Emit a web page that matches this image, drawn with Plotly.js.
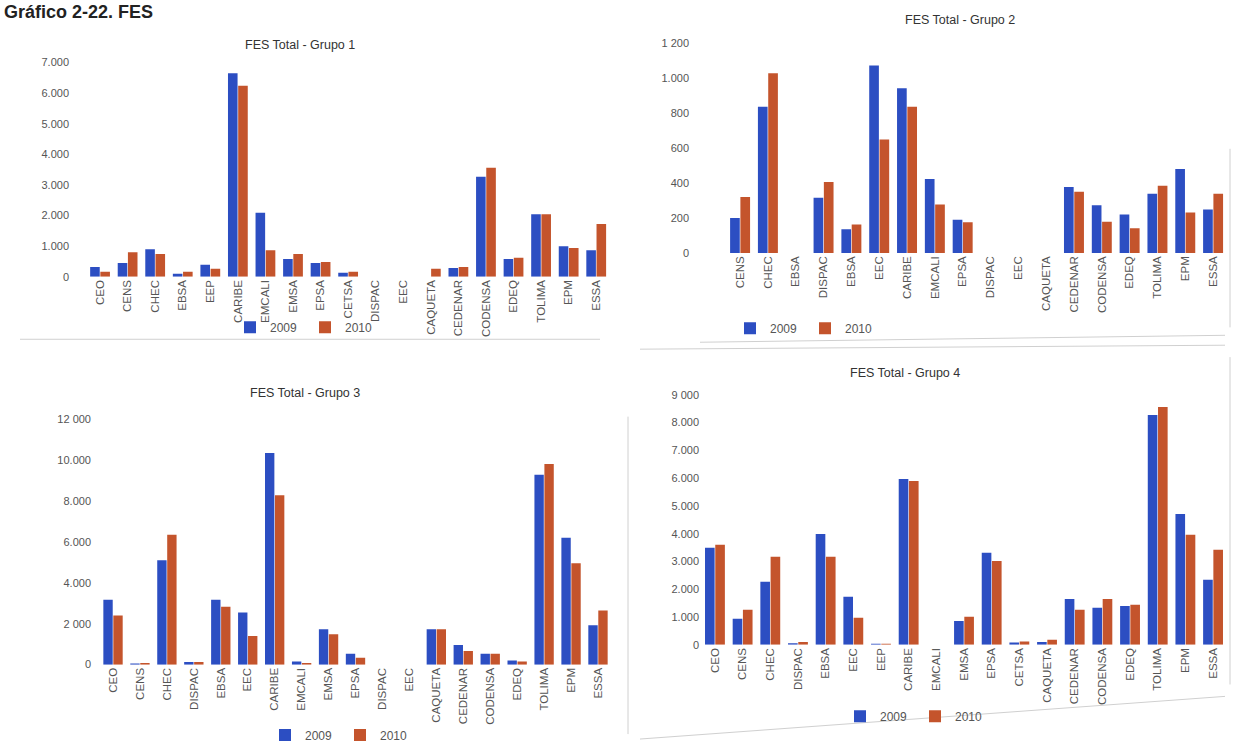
<!DOCTYPE html>
<html>
<head>
<meta charset="utf-8">
<script src="https://cdn.plot.ly/plotly-3.0.1.min.js"></script>
<style>html,body{margin:0;padding:0;background:#fff;}#chart{width:1238px;height:750px;}</style>
</head>
<body>
<div id="chart"></div>
<script>
// ---- Data ----
const seriesNames = ["2009", "2010"];

const g1Cats = ["CEO","CENS","CHEC","EBSA","EEP","CARIBE","EMCALI","EMSA","EPSA","CETSA","DISPAC","EEC","CAQUETA","CEDENAR","CODENSA","EDEQ","TOLIMA","EPM","ESSA"];
const g1_2009 = [320,450,900,100,390,6650,2090,580,450,130,null,null,null,290,3270,580,2040,1000,870];
const g1_2010 = [160,800,740,160,260,6240,870,740,480,160,null,null,260,320,3560,620,2040,940,1720];

const g2Cats = ["CENS","CHEC","EBSA","DISPAC","EBSA","EEC","CARIBE","EMCALI","EPSA","DISPAC","EEC","CAQUETA","CEDENAR","CODENSA","EDEQ","TOLIMA","EPM","ESSA"];
const g2_2009 = [200,834,null,315,135,1070,940,422,190,null,null,null,377,272,220,338,479,248];
const g2_2010 = [320,1025,null,405,163,648,834,276,175,null,null,null,350,178,141,383,231,338];

const g3Cats = ["CEO","CENS","CHEC","DISPAC","EBSA","EEC","CARIBE","EMCALI","EMSA","EPSA","DISPAC","EEC","CAQUETA","CEDENAR","CODENSA","EDEQ","TOLIMA","EPM","ESSA"];
const g3_2009 = [3180,50,5110,130,3180,2550,10360,150,1730,530,null,null,1730,960,530,200,9300,6220,1930];
const g3_2010 = [2410,80,6360,130,2840,1400,8290,80,1490,340,null,null,1730,670,530,150,9830,4960,2650];

const g4Cats = ["CEO","CENS","CHEC","DISPAC","EBSA","EEC","EEP","CARIBE","EMCALI","EMSA","EPSA","CETSA","CAQUETA","CEDENAR","CODENSA","EDEQ","TOLIMA","EPM","ESSA"];
const g4_2009 = [3490,935,2270,60,3990,1730,40,5970,null,860,3310,80,100,1650,1330,1400,8270,4710,2340];
const g4_2010 = [3600,1260,3170,100,3170,970,40,5900,null,1010,3020,120,180,1260,1650,1440,8560,3960,3420];

const g1TickVals = [0,1000,2000,3000,4000,5000,6000,7000];
const g1TickText = ["0","1.000","2.000","3.000","4.000","5.000","6.000","7.000"];
const g2TickVals = [0,200,400,600,800,1000,1200];
const g2TickText = ["0","200","400","600","800","1.000","1 200"];
const g3TickVals = [0,2000,4000,6000,8000,10000,12000];
const g3TickText = ["0","2 000","4.000","6.000","8.000","10.000","12 000"];
const g4TickVals = [0,1000,2000,3000,4000,5000,6000,7000,8000,9000];
const g4TickText = ["0","1.000","2.000","3.000","4.000","5.000","6.000","7.000","8.000","9 000"];

const titles = ["FES Total - Grupo 1","FES Total - Grupo 2","FES Total - Grupo 3","FES Total - Grupo 4"];

// ---- Styling ----
const W = 1238, H = 750;
const BLUE = "#2c4ec2", ORANGE = "#c4542c";
const FONT = "Liberation Sans, Arial, sans-serif";
const px = x => x / W;
const py = y => 1 - y / H;

const groups = [
  {cats:g1Cats, a:g1_2009, b:g1_2010, xa:"x",  ya:"y",  lg:"legend",  tv:g1TickVals, tt:g1TickText, ymax:7000,
   dom:[70,610], ydom:[279,63], xr:[-1.09,18.5], title:[300,45], leg:[305,330]},
  {cats:g2Cats, a:g2_2009, b:g2_2010, xa:"x2", ya:"y2", lg:"legend2", tv:g2TickVals, tt:g2TickText, ymax:1200,
   dom:[690,1227], ydom:[255,43], xr:[-1.8,17.5], title:[960,20], leg:[805,331]},
  {cats:g3Cats, a:g3_2009, b:g3_2010, xa:"x3", ya:"y3", lg:"legend3", tv:g3TickVals, tt:g3TickText, ymax:12000,
   dom:[92,612], ydom:[670,423], xr:[-0.78,18.52], title:[305,396], leg:[340,741]},
  {cats:g4Cats, a:g4_2009, b:g4_2010, xa:"x4", ya:"y4", lg:"legend4", tv:g4TickVals, tt:g4TickText, ymax:9000,
   dom:[700,1228], ydom:[650,398], xr:[-0.54,18.54], title:[905,376], leg:[915,722]}
];

const data = [];
const layout = {
  width: W, height: H,
  margin: {l:0, r:0, t:0, b:0},
  paper_bgcolor: "#fff", plot_bgcolor: "rgba(0,0,0,0)",
  barmode: "group", bargap: 0.26, bargroupgap: 0.06,
  font: {family: FONT, color: "#555", size: 11},
  annotations: [], shapes: []
};

groups.forEach((g, k) => {
  const xs = g.cats.map((_, i) => i);
  [g.a, g.b].forEach((vals, s) => {
    data.push({
      type: "bar", x: xs, y: vals, name: seriesNames[s],
      xaxis: g.xa, yaxis: g.ya, legend: g.lg,
      marker: {color: s === 0 ? BLUE : ORANGE, line: {width: 0}},
      showlegend: true, hoverinfo: "x+y"
    });
  });
  const n = k === 0 ? "" : String(k + 1);
  layout["xaxis" + n] = {
    domain: [px(g.dom[0]), px(g.dom[1])], anchor: "y" + n, range: g.xr,
    tickmode: "array", tickvals: xs, ticktext: g.cats, tickangle: -90,
    showgrid: false, zeroline: false, showline: false, ticks: "",
    tickfont: {size: 11.5, color: "#555", family: FONT}, fixedrange: true
  };
  layout["yaxis" + n] = {
    domain: [py(g.ydom[0]), py(g.ydom[1])], anchor: "x" + n, range: [0, g.ymax],
    tickmode: "array", tickvals: g.tv, ticktext: g.tt,
    showgrid: false, zeroline: false, showline: false, ticks: "",
    tickfont: {size: 11, color: "#555", family: FONT}, fixedrange: true
  };
  layout[g.lg] = {
    orientation: "h", x: px(g.leg[0]), y: py(g.leg[1]), xanchor: "center", yanchor: "middle",
    font: {size: 12, color: "#555", family: FONT}, bgcolor: "rgba(0,0,0,0)",
    itemwidth: 30, tracegroupgap: 0, itemclick: false,
    entrywidthmode: "pixels", entrywidth: 30
  };
  layout.annotations.push({
    text: titles[k], xref: "paper", yref: "paper", x: px(g.title[0]), y: py(g.title[1]),
    xanchor: "center", yanchor: "middle", showarrow: false,
    font: {size: 12.5, color: "#333", family: FONT}
  });
});

// Page heading (cut at the top of the scan in the reference)
layout.annotations.push({
  text: "<b>Gráfico 2-22. FES</b>", xref: "paper", yref: "paper",
  x: px(2), y: py(0), xanchor: "left", yanchor: "top", showarrow: false,
  font: {size: 18, color: "#222", family: FONT}
});

// Faint chart-box edges visible in the scan
const edge = {type: "line", xref: "paper", yref: "paper", line: {color: "#d0d0d0", width: 1}};
layout.shapes.push(Object.assign({}, edge, {x0: px(1230), x1: px(1230), y0: py(150), y1: py(330)}));
layout.shapes.push(Object.assign({}, edge, {x0: px(700), x1: px(1225), y0: py(345), y1: py(338)}));
layout.shapes.push(Object.assign({}, edge, {x0: px(640), x1: px(1225), y0: py(352), y1: py(348)}));
layout.shapes.push(Object.assign({}, edge, {x0: px(1230), x1: px(1230), y0: py(360), y1: py(690)}));
layout.shapes.push(Object.assign({}, edge, {x0: px(640), x1: px(1225), y0: py(745), y1: py(702)}));
layout.shapes.push(Object.assign({}, edge, {x0: px(20), x1: px(600), y0: py(342), y1: py(342)}));
layout.shapes.push(Object.assign({}, edge, {x0: px(628), x1: px(628), y0: py(420), y1: py(740)}));

Plotly.newPlot("chart", data, layout, {displayModeBar: false, staticPlot: true});
</script>
</body>
</html>
